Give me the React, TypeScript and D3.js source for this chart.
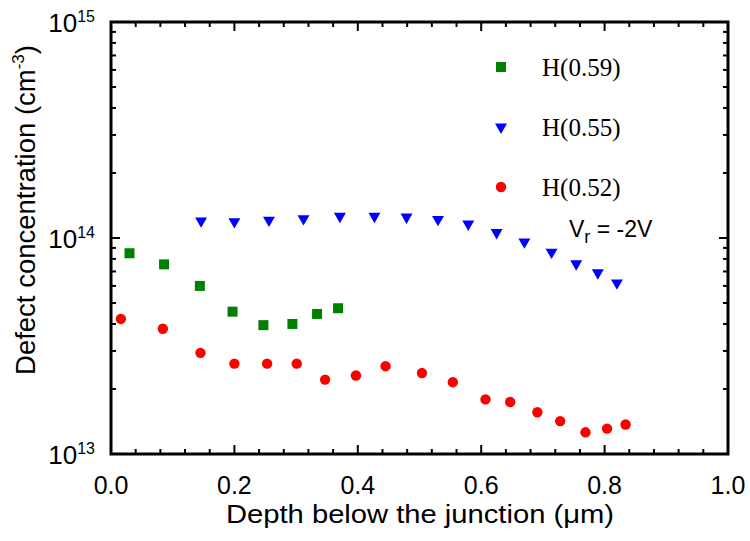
import React from 'react';
import * as d3 from 'd3';

const width = 750;
const height = 541;
const margin = { top: 22, right: 22, bottom: 87, left: 111 };

// H(0.59)
const greenX = [0.030, 0.086, 0.144, 0.197, 0.247, 0.294, 0.334, 0.368];
const greenY = [8.5e13, 7.55e13, 6.0e13, 4.56e13, 3.95e13, 4.0e13, 4.45e13, 4.73e13];

// H(0.55)
const blueX = [0.146, 0.200, 0.256, 0.312, 0.371, 0.427, 0.479, 0.530, 0.579, 0.625, 0.670, 0.714, 0.754, 0.789, 0.820];
const blueY = [1.20e14, 1.19e14, 1.21e14, 1.23e14, 1.26e14, 1.26e14, 1.25e14, 1.22e14, 1.16e14, 1.06e14, 9.6e13, 8.6e13, 7.6e13, 6.9e13, 6.2e13];

// H(0.52)
const redX = [0.016, 0.084, 0.145, 0.200, 0.253, 0.301, 0.347, 0.397, 0.445, 0.504, 0.554, 0.607, 0.647, 0.691, 0.728, 0.769, 0.804, 0.834];
const redY = [4.22e13, 3.8e13, 2.94e13, 2.62e13, 2.62e13, 2.62e13, 2.21e13, 2.31e13, 2.55e13, 2.37e13, 2.15e13, 1.79e13, 1.74e13, 1.56e13, 1.42e13, 1.26e13, 1.31e13, 1.37e13];

const xTicks = [0, 0.2, 0.4, 0.6, 0.8, 1.0];
const yDecades = [13, 14, 15];
const legendLabels = ['H(0.59)', 'H(0.55)', 'H(0.52)'];

const sans = 'Arial, "Liberation Sans", Helvetica, sans-serif';
const serif = '"Times New Roman", "Liberation Serif", serif';

const App = () => {
  const innerWidth = width - margin.left - margin.right;
  const innerHeight = height - margin.top - margin.bottom;
  const x = d3.scaleLinear().domain([0, 1]).range([0, innerWidth]);
  const y = d3.scaleLog().domain([1e13, 1e15]).range([innerHeight, 0]);

  const square = d3.symbol().type(d3.symbolSquare).size(100)();
  const tri = d3.symbol().type(d3.symbolTriangle).size(62)();
  const circle = d3.symbol().type(d3.symbolCircle).size(85)();

  const minorX = d3.range(0, 1.0001, 0.04).filter(
    (v) => !xTicks.some((t) => Math.abs(t - v) < 1e-6)
  );
  const minorY: number[] = [];
  [13, 14].forEach((e) => {
    for (let k = 2; k <= 9; k++) minorY.push(k * Math.pow(10, e));
  });

  const series = [
    { xs: greenX, ys: greenY, color: '#008000', path: square, rot: 0 },
    { xs: blueX, ys: blueY, color: '#0000ff', path: tri, rot: 180 },
    { xs: redX, ys: redY, color: '#ff0000', path: circle, rot: 0 },
  ];

  const major = 9;
  const minor = 5;

  return (
    <svg
      width={width}
      height={height}
      style={{ position: 'absolute', left: 0, top: 0, background: '#fff' }}
    >
      <g transform={`translate(${margin.left},${margin.top})`}>
        {/* data */}
        {series.map((s, si) =>
          s.xs.map((xv, i) => (
            <path
              key={`${si}-${i}`}
              d={s.path as string}
              fill={s.color}
              transform={`translate(${x(xv)},${y(s.ys[i])}) rotate(${s.rot})`}
            />
          ))
        )}

        {/* x ticks bottom + top */}
        {xTicks.map((t) => (
          <g key={`xt${t}`}>
            <line x1={x(t)} x2={x(t)} y1={innerHeight} y2={innerHeight - major} stroke="#000" strokeWidth={2} />
            <line x1={x(t)} x2={x(t)} y1={0} y2={major} stroke="#000" strokeWidth={2} />
            <text
              x={x(t)}
              y={innerHeight + 40}
              textAnchor="middle"
              fontFamily={sans}
              fontSize={25}
            >
              {t.toFixed(1)}
            </text>
          </g>
        ))}
        {minorX.map((t) => (
          <g key={`xm${t}`}>
            <line x1={x(t)} x2={x(t)} y1={innerHeight} y2={innerHeight - minor} stroke="#000" strokeWidth={2} />
            <line x1={x(t)} x2={x(t)} y1={0} y2={minor} stroke="#000" strokeWidth={2} />
          </g>
        ))}

        {/* y ticks left + right */}
        {yDecades.map((e) => {
          const v = Math.pow(10, e);
          return (
            <g key={`yt${e}`}>
              <line x1={0} x2={major} y1={y(v)} y2={y(v)} stroke="#000" strokeWidth={2} />
              <line x1={innerWidth} x2={innerWidth - major} y1={y(v)} y2={y(v)} stroke="#000" strokeWidth={2} />
              <text
                x={-16}
                y={y(v) + 10}
                textAnchor="end"
                fontFamily={sans}
                fontSize={26}
              >
                10
                <tspan fontSize={16} dy={-10}>
                  {e}
                </tspan>
              </text>
            </g>
          );
        })}
        {minorY.map((v) => (
          <g key={`ym${v}`}>
            <line x1={0} x2={minor} y1={y(v)} y2={y(v)} stroke="#000" strokeWidth={2} />
            <line x1={innerWidth} x2={innerWidth - minor} y1={y(v)} y2={y(v)} stroke="#000" strokeWidth={2} />
          </g>
        ))}

        {/* frame */}
        <rect
          x={0}
          y={0}
          width={innerWidth}
          height={innerHeight}
          fill="none"
          stroke="#000"
          strokeWidth={3}
        />

        {/* legend */}
        {series.map((s, i) => (
          <g key={`lg${i}`} transform={`translate(390,${45 + i * 60})`}>
            <path d={s.path as string} fill={s.color} transform={`rotate(${s.rot})`} />
            <text x={41} y={9} fontFamily={serif} fontSize={25}>
              {legendLabels[i]}
            </text>
          </g>
        ))}

        <text x={458} y={215} fontFamily={sans} fontSize={23}>
          V
          <tspan fontSize={18} dy={6}>r</tspan>
          <tspan dy={-6}> = -2V</tspan>
        </text>
      </g>

      {/* axis titles */}
      <text
        x={420}
        y={523}
        textAnchor="middle"
        fontFamily={sans}
        fontSize={26}
        textLength={388}
        lengthAdjust="spacingAndGlyphs"
      >
        Depth below the junction (μm)
      </text>
      <text
        transform="translate(35,210) rotate(-90)"
        textAnchor="middle"
        fontFamily={sans}
        fontSize={27.5}
      >
        Defect concentration (cm
        <tspan fontSize={17} dy={-11}>-3</tspan>
        <tspan dy={11}>)</tspan>
      </text>
    </svg>
  );
};

export default App;
